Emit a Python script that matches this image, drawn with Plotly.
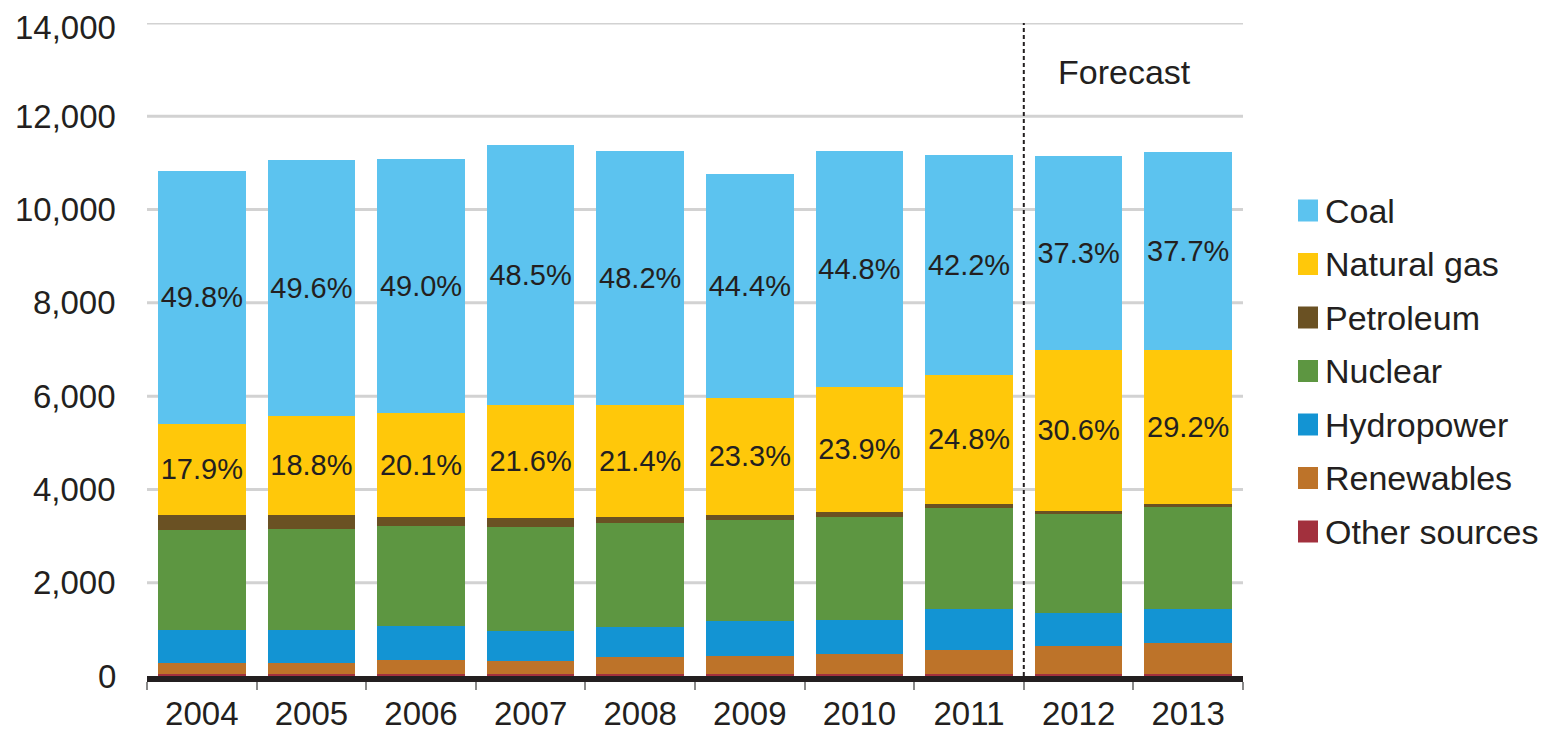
import plotly.graph_objects as go

years = ["2004", "2005", "2006", "2007", "2008", "2009", "2010", "2011", "2012", "2013"]

# thousand megawatthours per day
other_sources = [35, 35, 35, 35, 35, 35, 35, 35, 35, 35]
renewables = [244, 244, 300, 293, 372, 385, 443, 529, 615, 664]
hydropower = [714, 714, 743, 647, 635, 751, 718, 879, 707, 744]
nuclear = [2143, 2164, 2144, 2225, 2233, 2179, 2204, 2167, 2123, 2175]
petroleum = [322, 301, 178, 190, 125, 108, 120, 83, 63, 75]
natural_gas = [1955, 2122, 2237, 2425, 2415, 2501, 2675, 2770, 3457, 3287]
coal = [5404, 5490, 5443, 5575, 5431, 4801, 5065, 4712, 4138, 4244]

coal_share = ["49.8%", "49.6%", "49.0%", "48.5%", "48.2%", "44.4%", "44.8%", "42.2%", "37.3%", "37.7%"]
gas_share = ["17.9%", "18.8%", "20.1%", "21.6%", "21.4%", "23.3%", "23.9%", "24.8%", "30.6%", "29.2%"]

y_ticks = [0, 2000, 4000, 6000, 8000, 10000, 12000, 14000]

# legend order (top to bottom) and colours
legend_names = ["Coal", "Natural gas", "Petroleum", "Nuclear", "Hydropower", "Renewables", "Other sources"]
colors = {
    "Coal": "#5CC3EF",
    "Natural gas": "#FFC80A",
    "Petroleum": "#6A5123",
    "Nuclear": "#5D9641",
    "Hydropower": "#1394D3",
    "Renewables": "#BD7329",
    "Other sources": "#A2303D",
}

FONT = "Liberation Sans, Arial, sans-serif"
TXT = "#231f20"

series = [
    ("Other sources", other_sources, None),
    ("Renewables", renewables, None),
    ("Hydropower", hydropower, None),
    ("Nuclear", nuclear, None),
    ("Petroleum", petroleum, None),
    ("Natural gas", natural_gas, gas_share),
    ("Coal", coal, coal_share),
]

fig = go.Figure()
for name, vals, labels in series:
    kw = {}
    if labels is not None:
        kw = dict(text=labels, textposition="inside", insidetextanchor="middle",
                  textfont=dict(family=FONT, size=29, color=TXT), textangle=0)
    fig.add_trace(go.Bar(x=years, y=vals, name=name, marker=dict(color=colors[name], line=dict(width=0)),
                         showlegend=False, **kw))

# the page body adds an 8px offset, so the figure is sized to fit the window after it
OFF = 8
W, H = 1549 - OFF, 732 - OFF
L, T = 147 - OFF, 23 - OFF
pw, ph = 1096, 653
R, B = W - L - pw, H - T - ph
YMAX = 14000


def px(xs):
    return (xs - OFF - L) / pw


def py(ys):
    return (T + ph - (ys - OFF)) / ph


shapes = []
annotations = []

# horizontal gridlines drawn as shapes so the top one is never dropped at the range edge
for v in y_ticks[1:]:
    shapes.append(dict(type="line", xref="paper", yref="y", x0=0, x1=1, y0=v, y1=v,
                       line=dict(color="#d2d2d2", width=3), layer="below"))

# dashed separator between actual and forecast
shapes.append(dict(type="line", xref="x", yref="y", x0=7.5, x1=7.5, y0=0, y1=YMAX,
                   line=dict(color=TXT, width=2, dash="4px,3px"), layer="above"))
annotations.append(dict(xref="paper", yref="paper", x=px(1124), y=py(72), text="Forecast",
                        showarrow=False, xanchor="center", yanchor="middle",
                        font=dict(family=FONT, size=34, color=TXT)))

# y tick labels as annotations (top label sits on the range edge)
for v in y_ticks:
    annotations.append(dict(xref="paper", yref="y", x=px(118), y=v, text=f"{v:,}",
                            showarrow=False, xanchor="right", yanchor="middle",
                            yshift=-4 if v == YMAX else 0,
                            font=dict(family=FONT, size=33, color=TXT)))

# custom legend
for i, name in enumerate(legend_names):
    cy = 210.5 + 53.5 * i
    shapes.append(dict(type="rect", xref="paper", yref="paper",
                       x0=px(1298), x1=px(1318), y0=py(cy + 11), y1=py(cy - 11),
                       fillcolor=colors[name], line=dict(width=0)))
    annotations.append(dict(xref="paper", yref="paper", x=px(1323), y=py(cy), text=name,
                            showarrow=False, xanchor="left", yanchor="middle",
                            font=dict(family=FONT, size=34, color=TXT)))

fig.update_layout(
    width=W, height=H,
    margin=dict(l=L, r=R, t=T, b=B, autoexpand=False),
    barmode="stack",
    bargap=0.2,
    plot_bgcolor="white",
    paper_bgcolor="white",
    font=dict(family=FONT, size=34, color=TXT),
    uniformtext=dict(minsize=29, mode="show"),
    shapes=shapes,
    annotations=annotations,
    xaxis=dict(type="category", showgrid=False, showline=True, linecolor=TXT, linewidth=6,
               ticks="outside", tickson="boundaries", ticklen=8, tickwidth=2, tickcolor="#8a8a8a",
               tickfont=dict(family=FONT, size=33, color=TXT), ticklabelstandoff=3, automargin=False),
    yaxis=dict(range=[0, YMAX], showgrid=False, showticklabels=False, zeroline=False,
               showline=False, ticks="", automargin=False),
)

fig.write_html("out.html")
